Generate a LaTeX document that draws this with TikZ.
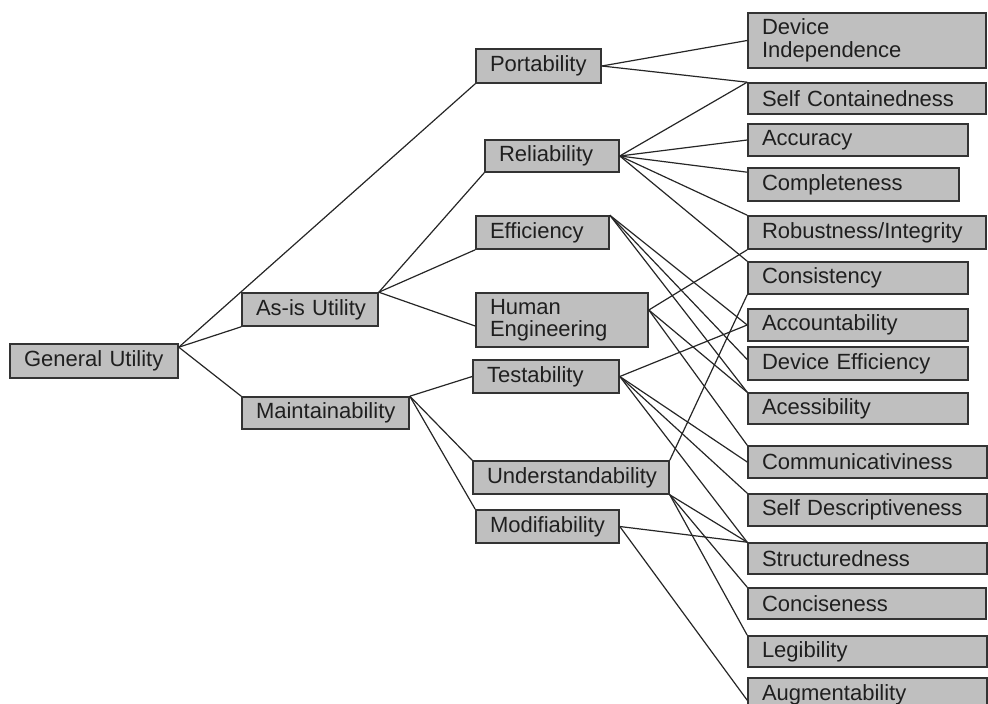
\documentclass[tikz,border=0pt]{standalone}
\usepackage{fontspec}
\setmainfont{Liberation Sans}
\begin{document}
\begin{tikzpicture}[x=1pt,y=-1pt,
  box/.style={draw=black!80, line width=1.6pt, fill=black!25, inner xsep=14pt,
    inner ysep=0pt, align=left, text=black!88,
    font=\fontsize{22}{22.5}\selectfont,
    execute at begin node={\hyphenpenalty=10000 \exhyphenpenalty=10000 \hbadness=10000 \hfuzz=20pt}},
  link/.style={draw=black!85, line width=1.2pt}]
\useasboundingbox (0,0) rectangle (988,704);
% \qbox{name}{left}{top}{right}{bottom}{label}
\newcommand\qbox[6]{%
  \pgfmathsetmacro\qw{#4-#2}\pgfmathsetmacro\qh{#5-#3}%
  \pgfmathsetmacro\qtw{#4-#2-28}%
  \node[box, minimum width=\qw pt, minimum height=\qh pt, text width=\qtw pt]
    (#1) at ({(#2+#4)/2},{(#3+#5)/2+1}) {#6};}
% root and first level
\qbox{gu}{10}{343}{178}{377}{General Utility}
\qbox{asis}{242}{292}{378}{325}{As-is~Utility}
\qbox{maint}{242}{396}{409}{428}{Maintainability}
% second level
\qbox{pt}{476}{48}{601}{82}{Portability}
\qbox{rel}{485}{139}{619}{171}{Reliability}
\qbox{eff}{476}{215}{609}{248}{Efficiency}
\qbox{hum}{476}{292}{648}{346}{Human\\Engineering}
\qbox{test}{473}{359}{619}{392}{Testability}
\qbox{und}{473}{460}{669}{493}{Understandability}
\qbox{mod}{476}{509}{619}{542}{Modifiability}
% primitive characteristics
\qbox{di}{748}{12}{986}{67}{Device\\Independence}
\qbox{sc}{748}{82}{986}{113}{Self Containedness}
\qbox{acc}{748}{123}{968}{155}{Accuracy}
\qbox{comp}{748}{167}{959}{200}{Completeness}
\qbox{rob}{748}{215}{986}{248}{Robustness/Integrity}
\qbox{cons}{748}{261}{968}{293}{Consistency}
\qbox{acct}{748}{308}{968}{340}{Accountability}
\qbox{deff}{748}{346}{968}{379}{Device Efficiency}
\qbox{aces}{748}{392}{968}{423}{Acessibility}
\qbox{comm}{748}{445}{987}{477}{Communicativiness}
\qbox{sdesc}{748}{493}{987}{525}{Self Descriptiveness}
\qbox{struct}{748}{542}{987}{573}{Structuredness}
\qbox{conc}{748}{587}{986}{618}{Conciseness}
\qbox{leg}{748}{635}{987}{666}{Legibility}
\qbox{aug}{748}{677}{987}{710}{Augmentability}

% fan-out points
\coordinate (guo) at ([yshift=-4pt]gu.north east);
\coordinate (humo) at ([yshift=10pt]hum.east);

% General Utility
\draw[link] (guo) -- (pt.south west);
\draw[link] (guo) -- (asis.south west);
\draw[link] (guo) -- (maint.north west);
% As-is Utility
\draw[link] (asis.north east) -- (rel.south west);
\draw[link] (asis.north east) -- (eff.south west);
\draw[link] (asis.north east) -- ([yshift=-6pt]hum.west);
% Maintainability
\draw[link] (maint.north east) -- (test.west);
\draw[link] (maint.north east) -- (und.north west);
\draw[link] (maint.north east) -- (mod.north west);
% Portability
\draw[link] (pt.east) -- (di.west);
\draw[link] (pt.east) -- (sc.north west);
% Reliability
\draw[link] (rel.east) -- (sc.north west);
\draw[link] (rel.east) -- (acc.west);
\draw[link] (rel.east) -- ([yshift=-5pt]comp.north west);
\draw[link] (rel.east) -- (rob.north west);
\draw[link] (rel.east) -- (cons.north west);
% Efficiency
\draw[link] (eff.north east) -- (acct.west);
\draw[link] (eff.north east) -- ([yshift=4pt]deff.west);
\draw[link] (eff.north east) -- (aces.north west);
% Human Engineering
\draw[link] (humo) -- (rob.south west);
\draw[link] (humo) -- (aces.north west);
\draw[link] (humo) -- (comm.north west);
% Testability
\draw[link] (test.east) -- (acct.west);
\draw[link] (test.east) -- (comm.west);
\draw[link] (test.east) -- (sdesc.north west);
\draw[link] (test.east) -- (struct.north west);
% Understandability
\draw[link] (und.north east) -- (cons.south west);
\draw[link] (und.south east) -- (struct.north west);
\draw[link] (und.south east) -- (conc.north west);
\draw[link] (und.south east) -- (leg.north west);
% Modifiability
\draw[link] (mod.east) -- (struct.north west);
\draw[link] (mod.east) -- ([yshift=-23pt]aug.north west);
\end{tikzpicture}
\end{document}
